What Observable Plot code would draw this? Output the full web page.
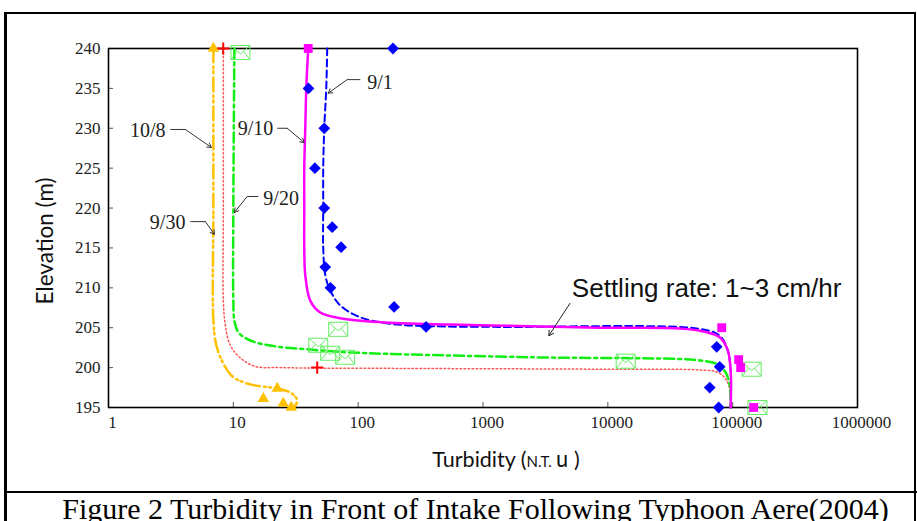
<!DOCTYPE html>
<html><head><meta charset="utf-8">
<script src="https://cdn.jsdelivr.net/npm/d3@7"></script>
<script src="https://cdn.jsdelivr.net/npm/@observablehq/plot@0.6"></script>
<style>
body{margin:0;background:#fff;}
#wrap{position:relative;width:917px;height:521px;overflow:hidden;background:#fff;}
#chart{position:absolute;left:0;top:0;}
#border{position:absolute;left:4px;top:12px;width:912px;height:520px;border-left:3px solid #000;border-top:2px solid #000;border-right:2px solid #000;box-sizing:border-box;}
#sep{position:absolute;left:4px;top:491px;width:913px;height:2px;background:#000;}
#caption{position:absolute;left:17px;width:917px;top:494px;line-height:30px;text-align:center;font-family:"Liberation Serif";font-size:30px;color:#000;white-space:nowrap;}
</style></head><body>
<div id="wrap"><div id="chart"></div><div id="border"></div><div id="sep"></div>
<div id="caption">Figure 2 Turbidity in Front of Intake Following Typhoon Aere(2004)</div></div>
<script>
// ---- axes ----
const xTicks = [1, 10, 100, 1000, 10000, 100000, 1000000];
const yTicks = [195, 200, 205, 210, 215, 220, 225, 230, 235, 240];
const xTitle = "Turbidity (N.T. u )";
const yTitle = "Elevation (m)";

// ---- measured points ----
// 9/1 (blue diamonds)
const obs91X = [190, 40, 53.5, 45, 53.5, 62, 73, 54.5, 60, 194, 350, 74500, 78700, 65500, 77300];
const obs91Y = [240, 235, 230, 225, 220, 217.6, 215.1, 212.6, 210, 207.6, 205.1, 202.6, 200.1, 197.5, 195];
// 9/10 (magenta squares)
const obs910X = [39.8, 81700, 111700, 115900, 147200];
const obs910Y = [240, 205, 201, 200, 195];
// 9/20 (green envelopes)
const obs920X = [11.4, 69.2, 47.9, 59.7, 78.7, 13900, 142000, 158000];
const obs920Y = [239.5, 204.8, 202.8, 201.8, 201.3, 200.8, 199.8, 195];
// 9/30 (red plus)
const obs930X = [8.3, 47];
const obs930Y = [240, 200];
// 10/8 (orange triangles)
const obs108X = [6.92, 22.5, 17.4, 25.1, 29.1];
const obs108Y = [240, 197.4, 196.1, 195.5, 195];

// ---- fitted curves ----
const fit91X = [56.5, 55.5, 53.5, 52.5, 52.5, 52.5, 54.5, 59.7, 71.8, 104, 180, 377, 1370, 54500, 78700, 91200, 96400, 96400];
const fit91Y = [240, 235, 230, 225, 220, 215, 211.6, 209.7, 207.8, 206.3, 205.5, 205.2, 205.1, 204.85, 204.0, 202.2, 199.6, 195];
const fit910X = [39.8, 38.4, 37.7, 37.0, 37.0, 37.0, 37.7, 41.3, 49.7, 71.8, 150, 545, 2380, 8630, 37700, 59700, 78700, 91200, 96400, 96400];
const fit910Y = [240, 235, 230, 225, 220, 215, 211.6, 208.4, 206.9, 206.2, 205.7, 205.4, 205.2, 205.0, 204.9, 204.5, 203.8, 202.2, 199.6, 195];
const fit920X = [10.2, 10.0, 10.0, 10.2, 11.0, 13.7, 20.9, 39.1, 86.3, 2380, 54500, 75900, 87900, 94600, 96400];
const fit920Y = [240, 220, 208.4, 205.9, 204.4, 203.4, 202.7, 202.3, 201.9, 201.3, 200.9, 200.4, 199.4, 197.8, 195];
const fit930X = [8.32, 8.32, 8.32, 8.63, 9.46, 11.4, 15.0, 23.8, 217, 8630, 54500, 75900, 89500, 96400, 96400];
const fit930Y = [240, 220, 208.4, 205.3, 202.8, 201.2, 200.15, 200.0, 199.9, 199.8, 199.7, 199.4, 198.4, 196.5, 195];
const fit108X = [6.92, 6.92, 6.92, 7.31, 8.32, 10.0, 14.5, 22.5, 29.1, 32.5, 30.8];
const fit108Y = [240, 220, 206.0, 202.8, 200.5, 198.8, 197.8, 197.4, 196.8, 195.9, 195.0];

// ---- annotations ----
const annText = ["9/1", "9/10", "10/8", "9/20", "9/30"];
const annSide = ["start", "end", "end", "start", "end"];
const annX = [118, 20.9, 2.86, 17.4, 4.13];
const annY = [235.7, 230, 229.7, 221.2, 218.2];
const leadStartX = [104, 22.5, 3.13, 15.85, 4.53];
const leadBendX = [81.7, 27.0, 4.13, 12.9, 5.97];
const leadEndX = [57.5, 37.0, 6.67, 10.2, 7.05];
const leadStartY = [236.1, 230, 229.85, 221.45, 218.3];
const leadEndY = [234.4, 228.2, 227.6, 219.45, 216.7];
const noteText = "Settling rate: 1~3 cm/hr";
const noteX = 5150, noteY = 209.9;
const noteArrow = {x1: 4970, y1: 208.05, x2: 3370, y2: 204.0};

const pts = (xs, ys) => xs.map((x, i) => ({x, y: ys[i]}));
const ann = annText.map((t, i) => ({t, side: annSide[i], x: annX[i], y: annY[i],
  sx: leadStartX[i], bx: leadBendX[i], ex: leadEndX[i], sy: leadStartY[i], ey: leadEndY[i]}));

const envelope = {
  draw(ctx) {
    const w = 9.5, h = 7;
    ctx.moveTo(-w, -h); ctx.lineTo(w, -h); ctx.lineTo(w, h); ctx.lineTo(-w, h); ctx.closePath();
    ctx.moveTo(-w, -h); ctx.lineTo(0, 1.5); ctx.lineTo(w, -h);
    ctx.moveTo(-w, h); ctx.lineTo(-3, -1);
    ctx.moveTo(w, h); ctx.lineTo(3, -1);
  }
};

const line = (xs, ys, o) => Plot.line(pts(xs, ys), {x: "x", y: "y", curve: "catmull-rom", ...o});

const chart = Plot.plot({
  width: 917, height: 492,
  marginLeft: 108, marginRight: 60, marginTop: 48, marginBottom: 85,
  x: {type: "log", domain: [1, 1e6]},
  y: {domain: [195, 240]},
  style: {fontFamily: "Liberation Serif", fontSize: "17px", color: "#000", background: "#fff"},
  marks: [
    Plot.axisY(yTicks, {tickSize: -5, tickFormat: () => "", label: null, stroke: "#555"}),
    Plot.axisY(yTicks, {tickSize: 0, tickPadding: 8, label: null, fontSize: 17, fontFamily: "Liberation Serif", fill: "#222"}),
    Plot.axisX(xTicks, {tickSize: -5, tickFormat: () => "", label: null, stroke: "#555"}),
    Plot.axisX(xTicks, {tickSize: 0, tickPadding: 8, tickFormat: d => String(d), label: null, dx: 4, fontSize: 17, fontFamily: "Liberation Serif", fill: "#222"}),
    Plot.frame({stroke: "#000", strokeWidth: 1.6}),
    Plot.text([yTitle], {frameAnchor: "left", textAnchor: "middle", dx: -63, dy: 13, rotate: -90, fontFamily: "Lato", fontSize: 22.5, fill: "#111"}),
    Plot.text([xTitle], {frameAnchor: "bottom", textAnchor: "middle", dy: 59, dx: 23, fontFamily: "Lato", fontSize: 21.5, fill: "#111"}),
    // curves
    line(fit108X, fit108Y, {stroke: "#FFC000", strokeWidth: 2.5, strokeDasharray: "14,4,2,3,2,4"}),
    line(fit930X, fit930Y, {stroke: "#FF5555", strokeWidth: 1.5, strokeDasharray: "1.5,2.5"}),
    line(fit920X, fit920Y, {stroke: "#11EE11", strokeWidth: 2.5, strokeDasharray: "10,4,3,4"}),
    line(fit91X, fit91Y, {stroke: "#0000FF", strokeWidth: 2, strokeDasharray: "7,4"}),
    line(fit910X, fit910Y, {stroke: "#FF00FF", strokeWidth: 2.5}),
    // markers
    Plot.dot(pts(obs920X, obs920Y), {x: "x", y: "y", symbol: envelope, r: 5, fill: "none", stroke: "#66EE66", strokeWidth: 1}),
    Plot.dot(pts(obs930X, obs930Y), {x: "x", y: "y", symbol: "plus", r: 4, stroke: "#FF0000", strokeWidth: 2}),
    Plot.dot(pts(obs108X, obs108Y), {x: "x", y: "y", symbol: "triangle", r: 4.3, fill: "#FFC000", stroke: "none"}),
    Plot.dot(pts(obs91X, obs91Y), {x: "x", y: "y", symbol: "diamond2", r: 5.3, fill: "#0000FF", stroke: "none"}),
    Plot.dot(pts(obs910X, obs910Y), {x: "x", y: "y", symbol: "square", r: 5, fill: "#FF00FF", stroke: "none"}),
    // annotations
    Plot.link(ann, {x1: "sx", y1: "sy", x2: "bx", y2: "sy", stroke: "#333", strokeWidth: 1}),
    Plot.arrow(ann, {x1: "bx", y1: "sy", x2: "ex", y2: "ey", stroke: "#333", strokeWidth: 1, headLength: 7}),
    Plot.text(ann.filter(d => d.side === "start"), {x: "x", y: "y", text: "t", textAnchor: "start", fontFamily: "Liberation Serif", fontSize: 20, fill: "#222"}),
    Plot.text(ann.filter(d => d.side === "end"), {x: "x", y: "y", text: "t", textAnchor: "end", fontFamily: "Liberation Serif", fontSize: 20, fill: "#222"}),
    Plot.text([noteText], {x: noteX, y: noteY, textAnchor: "start", fontFamily: "Liberation Sans", fontSize: 26, fill: "#111"}),
    Plot.arrow([noteArrow], {x1: "x1", y1: "y1", x2: "x2", y2: "y2", stroke: "#222", strokeWidth: 1, headLength: 8})
  ]
});
document.getElementById("chart").appendChild(chart);
// mixed-size x title
d3.select(chart).selectAll("text").filter(function(){ return this.textContent === xTitle; })
  .each(function(){
    const t = d3.select(this); t.text(null);
    t.append("tspan").text("Turbidity (");
    t.append("tspan").attr("font-size", 15).text("N.T. ");
    t.append("tspan").attr("font-family", "Noto Sans CJK SC").attr("font-size", 21).text("u");
    t.append("tspan").text(" )");
  });
</script>
</body></html>
